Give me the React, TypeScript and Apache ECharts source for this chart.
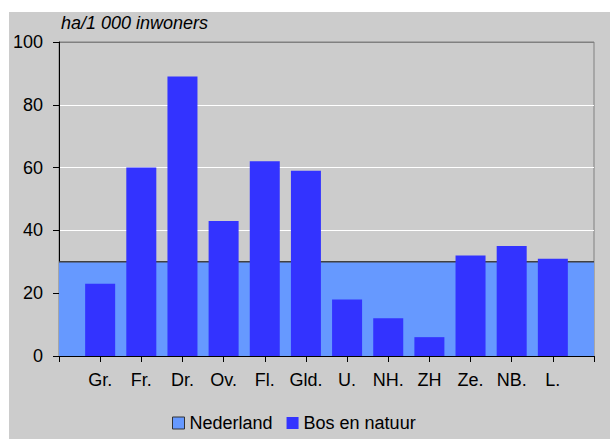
import React, { useEffect, useRef } from "react";
import * as echarts from "echarts";

const categories = ["", "Gr.", "Fr.", "Dr.", "Ov.", "Fl.", "Gld.", "U.", "NH.", "ZH", "Ze.", "NB.", "L.", ""];
const bosEnNatuur: (number | null)[] = [null, 23, 60, 89, 43, 62, 59, 18, 12, 6, 32, 35, 31, null];
const nederland = [30, 30, 30, 30, 30, 30, 30, 30, 30, 30, 30, 30, 30, 30];
const yTicks = { min: 0, max: 100, interval: 20 };
const unitLabel = "ha/1 000 inwoners";

const FONT = "Liberation Sans, Arial, sans-serif";
const FS = 18;

export default function App() {
  const ref = useRef<HTMLDivElement>(null);
  useEffect(() => {
    document.body.style.margin = "0";
    const chart = echarts.init(ref.current!, null, { renderer: "svg" });
    chart.setOption({
      animation: false,
      backgroundColor: "#ffffff",
      textStyle: { fontFamily: FONT },
      graphic: [
        { type: "rect", z: -10, shape: { x: 9, y: 12, width: 601, height: 427 }, style: { fill: "#cccccc" } },
        {
          type: "text",
          left: 61,
          top: 14,
          style: { text: unitLabel, fontFamily: FONT, fontSize: FS, fontStyle: "italic", fill: "#000" },
        },
      ],
      grid: {
        left: 59,
        top: 42,
        right: 16,
        bottom: 83,
        show: true,
        borderColor: "#808080",
        borderWidth: 1,
        backgroundColor: "transparent",
      },
      legend: {
        left: 167,
        top: 409,
        itemWidth: 12,
        itemHeight: 12,
        itemGap: 14,
        textStyle: { fontFamily: FONT, fontSize: FS, color: "#000", padding: [0, 0, 0, 0] },
        data: [
          { name: "Nederland", icon: "rect", itemStyle: { color: "#6699ff", borderColor: "#333333", borderWidth: 1 } },
          { name: "Bos en natuur", icon: "rect", itemStyle: { color: "#3333ff" } },
        ],
      },
      xAxis: {
        type: "category",
        data: categories,
        boundaryGap: false,
        axisLine: { lineStyle: { color: "#000", width: 1 } },
        axisTick: { show: true, interval: 0, length: 6, lineStyle: { color: "#000" } },
        axisLabel: { interval: 0, margin: 15, fontFamily: FONT, fontSize: FS, color: "#000" },
        splitLine: { show: false },
      },
      yAxis: {
        type: "value",
        min: yTicks.min,
        max: yTicks.max,
        interval: yTicks.interval,
        axisLine: { show: true, lineStyle: { color: "#000", width: 1 } },
        axisTick: { show: true, length: 6, lineStyle: { color: "#000" } },
        axisLabel: { margin: 16, fontFamily: FONT, fontSize: FS, color: "#000" },
        splitLine: {
          show: true,
          lineStyle: { color: ["#cccccc", "#ffffff", "#ffffff", "#ffffff", "#ffffff", "#808080"], width: 1 },
        },
      },
      series: [
        {
          name: "Nederland",
          type: "line",
          data: nederland,
          symbol: "none",
          z: 1,
          lineStyle: { color: "#404040", width: 1.5 },
          itemStyle: { color: "#6699ff" },
          areaStyle: { color: "#6699ff", opacity: 1 },
        },
        {
          name: "Bos en natuur",
          type: "bar",
          data: bosEnNatuur,
          barWidth: 30,
          z: 2,
          itemStyle: { color: "#3333ff" },
        },
      ],
    });
    return () => chart.dispose();
  }, []);
  return <div ref={ref} style={{ width: 610, height: 439 }} />;
}
